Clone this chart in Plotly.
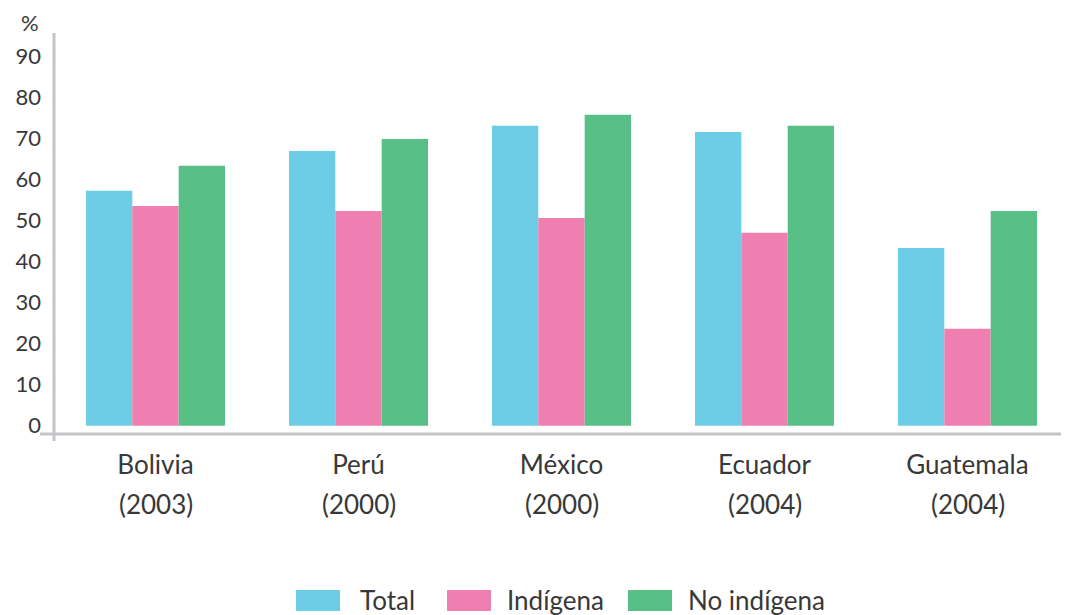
import plotly.graph_objects as go

countries = ["Bolivia", "Perú", "México", "Ecuador", "Guatemala"]
years = ["(2003)", "(2000)", "(2000)", "(2004)", "(2004)"]
total = [57.2, 66.9, 73.0, 71.5, 43.3]
indigena = [53.5, 52.3, 50.6, 47.0, 23.6]
no_indigena = [63.3, 69.8, 75.7, 73.0, 52.3]
y_ticks = [0, 10, 20, 30, 40, 50, 60, 70, 80, 90]

series = [
    ("Total", total, "#6dcde6"),
    ("Indígena", indigena, "#ef7fb0"),
    ("No indígena", no_indigena, "#58bf87"),
]

# the page body has an 8px margin, so the figure is sized/offset accordingly
OFF = 8
W, H = 1069 - OFF, 615 - OFF
ML, MR, MT, MB = 54 - OFF, 0, 33 - OFF, 615 - 434
PW, PH = W - ML - MR, H - MT - MB

def px_x(sx):
    return (sx - OFF - ML) / PW

def px_y(sy):
    return (H - MB - (sy - OFF)) / PH

FONT = "Lato"
TXT = "#383838"

fig = go.Figure()
xs = list(range(len(countries)))
for name, vals, color in series:
    fig.add_trace(go.Bar(x=xs, y=vals, name=name, showlegend=False,
                         marker=dict(color=color, line=dict(width=0))))

axis_color = "#c3c3c8"
shapes = [
    dict(type="line", xref="paper", yref="paper", x0=0, x1=0, y0=px_y(441), y1=1,
         line=dict(color=axis_color, width=3)),
    dict(type="line", xref="paper", yref="paper", x0=px_x(40), x1=1, y0=0, y1=0,
         line=dict(color=axis_color, width=3)),
]
annotations = [
    dict(text="%", xref="paper", yref="paper", x=px_x(30), y=px_y(22), xanchor="center",
         yanchor="middle", showarrow=False, font=dict(size=22, family=FONT, color=TXT)),
]
for i, yr in enumerate(years):
    annotations.append(dict(text=yr, xref="x", yref="paper", x=i, y=px_y(504),
                            xanchor="center", yanchor="middle", showarrow=False,
                            font=dict(size=26, family=FONT, color=TXT)))

# custom legend (wide swatches as in the reference)
legend_swatch_x = [296, 447, 628]
legend_text_x = [358, 505, 686]
for (name, vals, color), sx, tx in zip(series, legend_swatch_x, legend_text_x):
    shapes.append(dict(type="rect", xref="paper", yref="paper",
                       x0=px_x(sx), x1=px_x(sx + 44), y0=px_y(611), y1=px_y(590),
                       fillcolor=color, line=dict(width=0)))
    annotations.append(dict(text=name, xref="paper", yref="paper", x=px_x(tx), y=px_y(600),
                            xanchor="left", yanchor="middle", showarrow=False,
                            font=dict(size=26, family=FONT, color=TXT)))

fig.update_layout(
    width=W, height=H,
    margin=dict(l=ML, r=MR, t=MT, b=MB, autoexpand=False),
    paper_bgcolor="white", plot_bgcolor="white",
    barmode="group", bargap=0.315, bargroupgap=0,
    font=dict(family=FONT, size=22, color=TXT),
    showlegend=False,
    xaxis=dict(range=[-0.5, 4.5], tickvals=xs, ticktext=countries, automargin=False,
               showline=False, showgrid=False, zeroline=False, ticks="",
               tickfont=dict(size=26), ticklabelstandoff=13),
    yaxis=dict(range=[-2, 95.6], tickvals=y_ticks, ticktext=[str(v) for v in y_ticks],
               automargin=False, showline=False, showgrid=False, zeroline=False, ticks="",
               tickfont=dict(size=22), ticklabelstandoff=12),
    shapes=shapes,
    annotations=annotations,
)

fig.write_html("out.html")
